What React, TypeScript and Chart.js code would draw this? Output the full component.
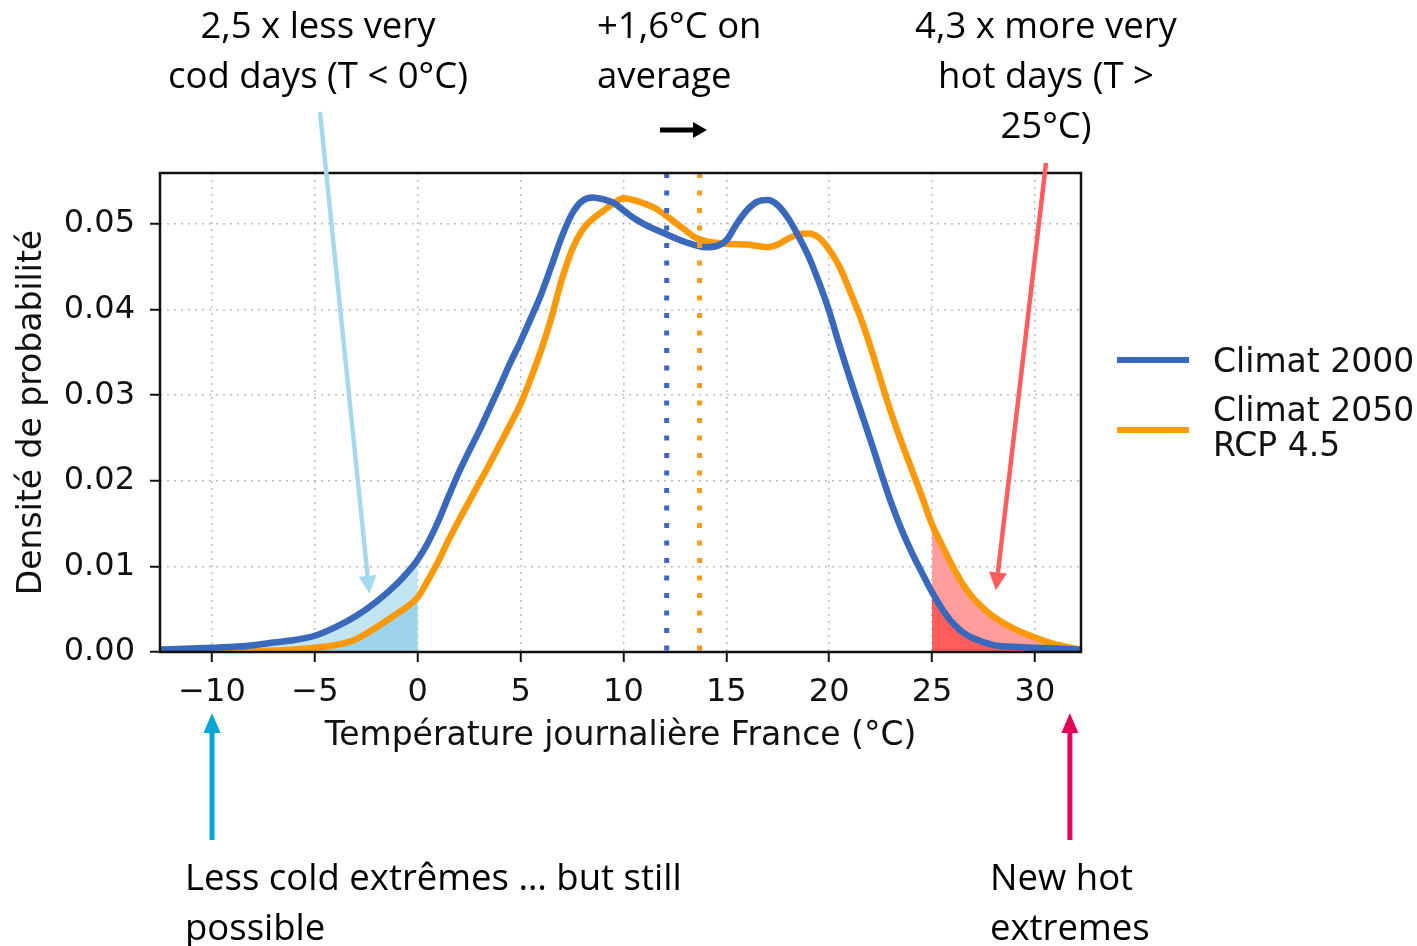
import React, { useEffect, useRef } from 'react';
import { Chart, registerables } from 'chart.js';

Chart.register(...registerables);

// ---- Data ----
const blueTemps = [
  -12.5, -11, -10, -9, -8, -7, -6, -5, -4, -3, -2, -1, -0.5, 0, 0.5, 1, 1.5, 2, 2.5, 3, 3.5, 4, 4.5, 5, 5.5, 6,
  6.5, 7, 7.5, 8, 8.5, 9, 9.5, 10, 10.5, 11, 12, 13, 14, 14.5, 15, 15.5, 16, 16.5, 17, 17.5, 18, 18.5, 19, 19.5,
  20, 20.5, 21, 21.5, 22, 22.5, 23, 23.5, 24, 24.5, 25, 25.5, 26, 26.5, 27, 28, 29, 30, 31, 32.2,
];
const blueDensity = [
  0.0003, 0.0004, 0.0005, 0.0006, 0.0008, 0.0011, 0.0014, 0.0019, 0.0029, 0.0042, 0.0059, 0.0080, 0.0093,
  0.0108, 0.0128, 0.0153, 0.0182, 0.0210, 0.0235, 0.0259, 0.0285, 0.0311, 0.0338, 0.0363, 0.0390, 0.0418,
  0.0451, 0.0485, 0.0512, 0.0527, 0.0531, 0.0529, 0.0525, 0.0516, 0.0507, 0.0500, 0.0489, 0.0479, 0.0473,
  0.0474, 0.0481, 0.0500, 0.0516, 0.0526, 0.0528, 0.0522, 0.0507, 0.0486, 0.0462, 0.0432, 0.0398, 0.0358,
  0.0320, 0.0284, 0.0248, 0.0211, 0.0175, 0.0144, 0.0117, 0.0093, 0.0070, 0.0050, 0.0034, 0.0023, 0.0016,
  0.0008, 0.0006, 0.0005, 0.0004, 0.0003,
];
const orangeTemps = [
  -12.5, -10, -8, -6, -5, -4, -3, -2, -1, 0, 0.5, 1, 1.5, 2, 2.5, 3, 3.5, 4, 4.5, 5, 5.5, 6, 6.5, 7, 7.5, 8,
  8.5, 9, 9.5, 10, 10.5, 11, 11.5, 12, 12.5, 13, 13.5, 14, 15, 16, 17, 17.5, 18, 18.5, 19, 19.5, 20, 20.5, 21,
  21.5, 22, 22.5, 23, 23.5, 24, 24.5, 25, 25.5, 26, 26.5, 27, 27.5, 28, 29, 30, 31, 32.2,
];
const orangeDensity = [
  0.0000, 0.0001, 0.0001, 0.0003, 0.0005, 0.0008, 0.0015, 0.0029, 0.0045, 0.0064, 0.0084, 0.0106, 0.0131,
  0.0154, 0.0176, 0.0198, 0.0220, 0.0243, 0.0266, 0.0290, 0.0320, 0.0353, 0.0391, 0.0435, 0.0470, 0.0493,
  0.0506, 0.0515, 0.0524, 0.0530, 0.0528, 0.0524, 0.0519, 0.0511, 0.0502, 0.0493, 0.0484, 0.0480, 0.0477,
  0.0476, 0.0473, 0.0476, 0.0483, 0.0488, 0.0489, 0.0484, 0.0470, 0.0450, 0.0422, 0.0392, 0.0357, 0.0318,
  0.0280, 0.0246, 0.0214, 0.0182, 0.0149, 0.0124, 0.0100, 0.0079, 0.0063, 0.0051, 0.0041, 0.0027, 0.0017,
  0.0009, 0.0003,
];
const seriesNames = ['Climat 2000', 'Climat 2050 RCP 4.5'];
const meanTemps = [12.1, 13.7];
const coldThreshold = 0;
const hotThreshold = 25;
const xTickValues = [-10, -5, 0, 5, 10, 15, 20, 25, 30];
const yTickValues = [0, 0.01, 0.02, 0.03, 0.04, 0.05];
const xMin = -12.53;
const xMax = 32.24;
const yMin = 0;
const yMax = 0.05596;
const xTitle = 'Température journalière France (°C)';
const yTitle = 'Densité de probabilité';

// ---- Styles ----
const BLUE = '#3a68bb';
const ORANGE = '#fa9a0a';
const COLD_LIGHT = '#c3e5f3';
const COLD_DARK = '#9dd4ec';
const HOT_LIGHT = '#ff9d9d';
const HOT_DARK = '#ff5c5c';
const TICK_FONT = { family: 'DejaVu Sans', size: 32 };
const TITLE_FONT = { family: 'DejaVu Sans', size: 33 };
const TEXT_FONT = '"Open Sans", Lato, sans-serif';

const toPoints = (xs: number[], ys: number[]) => xs.map((x, i) => ({ x, y: ys[i] }));

function drawArrow(
  ctx: CanvasRenderingContext2D,
  x1: number, y1: number, x2: number, y2: number,
  color: string, width: number, headLen: number, headW: number,
) {
  const ang = Math.atan2(y2 - y1, x2 - x1);
  const bx = x2 - headLen * Math.cos(ang);
  const by = y2 - headLen * Math.sin(ang);
  ctx.save();
  ctx.strokeStyle = color;
  ctx.lineWidth = width;
  ctx.lineCap = 'butt';
  ctx.beginPath();
  ctx.moveTo(x1, y1);
  ctx.lineTo(bx, by);
  ctx.stroke();
  ctx.fillStyle = color;
  ctx.beginPath();
  ctx.moveTo(x2, y2);
  ctx.lineTo(bx + (headW / 2) * Math.sin(ang), by - (headW / 2) * Math.cos(ang));
  ctx.lineTo(bx - (headW / 2) * Math.sin(ang), by + (headW / 2) * Math.cos(ang));
  ctx.closePath();
  ctx.fill();
  ctx.restore();
}

const decorPlugin = {
  id: 'decor',
  afterDraw(chart: any) {
    const { ctx, chartArea } = chart;
    const xs = chart.scales.x;
    const ys = chart.scales.y;
    // frame
    ctx.save();
    ctx.strokeStyle = '#111';
    ctx.lineWidth = 2.5;
    ctx.strokeRect(chartArea.left, chartArea.top, chartArea.right - chartArea.left, chartArea.bottom - chartArea.top);
    ctx.restore();
    // legend lines
    ctx.save();
    ctx.lineWidth = 6;
    ctx.strokeStyle = BLUE;
    ctx.beginPath();
    ctx.moveTo(1117, 360);
    ctx.lineTo(1189, 360);
    ctx.stroke();
    ctx.strokeStyle = ORANGE;
    ctx.beginPath();
    ctx.moveTo(1117, 430);
    ctx.lineTo(1189, 430);
    ctx.stroke();
    ctx.restore();
    // annotation arrows
    drawArrow(ctx, 320, 112, xs.getPixelForValue(-2.35), ys.getPixelForValue(0.0068), '#a6d9ef', 4.5, 18, 18);
    drawArrow(ctx, 1046, 163, xs.getPixelForValue(28.1), ys.getPixelForValue(0.0072), '#ff5c5c', 4.5, 18, 18);
    drawArrow(ctx, 660, 130, 707, 130, '#000', 5, 14, 16);
    const xc = xs.getPixelForValue(-10);
    drawArrow(ctx, xc, 840, xc, 713, '#00a6d6', 5, 20, 17);
    const xh = xs.getPixelForValue(31.7);
    drawArrow(ctx, xh, 840, xh, 713, '#e3005b', 5, 20, 17);
  },
};

export default function App() {
  const canvasRef = useRef<HTMLCanvasElement | null>(null);

  useEffect(() => {
    const canvas = canvasRef.current;
    if (!canvas) return;
    const bluePts = toPoints(blueTemps, blueDensity);
    const orangePts = toPoints(orangeTemps, orangeDensity);
    const fillDs = (pts: any[], color: string) => ({
      type: 'line',
      data: pts,
      borderWidth: 0,
      borderColor: 'rgba(0,0,0,0)',
      backgroundColor: color,
      fill: 'origin',
      pointRadius: 0,
      cubicInterpolationMode: 'monotone',
    });
    const meanDs = (t: number, color: string) => ({
      type: 'line',
      data: [{ x: t, y: yMax }, { x: t, y: yMin }],
      borderColor: color,
      borderWidth: 5,
      borderDash: [5, 12.5],
      borderCapStyle: 'butt',
      pointRadius: 0,
      fill: false,
    });
    const lineDs = (label: string, pts: any[], color: string) => ({
      label,
      data: pts,
      borderColor: color,
      borderWidth: 6.5,
      pointRadius: 0,
      fill: false,
      cubicInterpolationMode: 'monotone',
      borderJoinStyle: 'round',
      borderCapStyle: 'round',
    });
    const chart = new Chart(canvas, {
      type: 'line',
      data: {
        datasets: [
          meanDs(meanTemps[0], '#3d66c2'),
          meanDs(meanTemps[1], '#f59a1c'),
          lineDs(seriesNames[0], bluePts, BLUE),
          lineDs(seriesNames[1], orangePts, ORANGE),
          fillDs(orangePts.filter((p) => p.x <= coldThreshold), COLD_DARK),
          fillDs(bluePts.filter((p) => p.x <= coldThreshold), COLD_LIGHT),
          fillDs(bluePts.filter((p) => p.x >= hotThreshold), HOT_DARK),
          fillDs(orangePts.filter((p) => p.x >= hotThreshold), HOT_LIGHT),
        ] as any,
      },
      options: {
        responsive: false,
        animation: false,
        events: [],
        layout: { padding: { left: 0, right: 336, top: 173, bottom: 184 } },
        plugins: { legend: { display: false }, tooltip: { enabled: false } },
        scales: {
          x: {
            type: 'linear',
            min: xMin,
            max: xMax,
            afterFit: (s: any) => { s.height = 110; },
            afterBuildTicks: (s: any) => { s.ticks = xTickValues.map((v) => ({ value: v })); },
            ticks: {
              font: TICK_FONT,
              color: '#111',
              padding: 11,
              maxRotation: 0,
              autoSkip: false,
              callback: (v: any) => (Number(v) < 0 ? '\u2212' + Math.abs(Number(v)) : String(v)),
            },
            grid: {
              color: '#bcbcbc',
              lineWidth: 1.5,
              tickColor: '#111',
              tickWidth: 2,
              tickLength: 10,
              tickBorderDash: [],
            } as any,
            border: { display: false, dash: [2, 5] },
            title: { display: true, text: xTitle, font: TITLE_FONT, color: '#111', padding: { top: 4, bottom: 6 } },
          },
          y: {
            type: 'linear',
            min: yMin,
            max: yMax,
            afterFit: (s: any) => { s.width = 160; },
            afterBuildTicks: (s: any) => { s.ticks = yTickValues.map((v) => ({ value: v })); },
            ticks: {
              font: TICK_FONT,
              color: '#111',
              padding: 15,
              autoSkip: false,
              callback: (v: any) => Number(v).toFixed(2),
            },
            grid: {
              color: '#bcbcbc',
              lineWidth: 1.5,
              tickColor: '#111',
              tickWidth: 2,
              tickLength: 10,
              tickBorderDash: [],
            } as any,
            border: { display: false, dash: [2, 5] },
            title: { display: true, text: yTitle, font: TITLE_FONT, color: '#111', padding: { top: 13, bottom: 4 } },
          },
        },
      } as any,
      plugins: [decorPlugin],
    });
    return () => chart.destroy();
  }, []);

  const txt: React.CSSProperties = {
    position: 'absolute',
    fontFamily: TEXT_FONT,
    fontSize: 36.5,
    lineHeight: '50px',
    color: '#000',
    whiteSpace: 'nowrap',
  };
  const leg: React.CSSProperties = {
    position: 'absolute',
    fontFamily: 'DejaVu Sans',
    fontSize: 33,
    lineHeight: '35px',
    color: '#111',
    whiteSpace: 'nowrap',
    left: 1213,
  };

  return (
    <div style={{ position: 'absolute', left: 0, top: 0, width: 1417, height: 946, background: '#fff', overflow: 'hidden' }}>
      <canvas ref={canvasRef} width={1417} height={946} style={{ display: 'block', position: 'absolute', left: 0, top: 0 }} />
      <div style={{ ...txt, left: 118, top: -1, width: 400, textAlign: 'center' }}>
        2,5 x less very<br />cod days (T &lt; 0°C)
      </div>
      <div style={{ ...txt, left: 597, top: -1 }}>
        +1,6°C on<br />average
      </div>
      <div style={{ ...txt, left: 846, top: -1, width: 400, textAlign: 'center' }}>
        4,3 x more very<br />hot days (T &gt;<br />25°C)
      </div>
      <div style={{ ...txt, left: 185, top: 851 }}>
        Less cold extrêmes … but still<br />possible
      </div>
      <div style={{ ...txt, left: 990, top: 851 }}>
        New hot<br />extremes
      </div>
      <div style={{ ...leg, top: 343 }}>Climat 2000</div>
      <div style={{ ...leg, top: 392 }}>
        Climat 2050<br />RCP 4.5
      </div>
    </div>
  );
}
